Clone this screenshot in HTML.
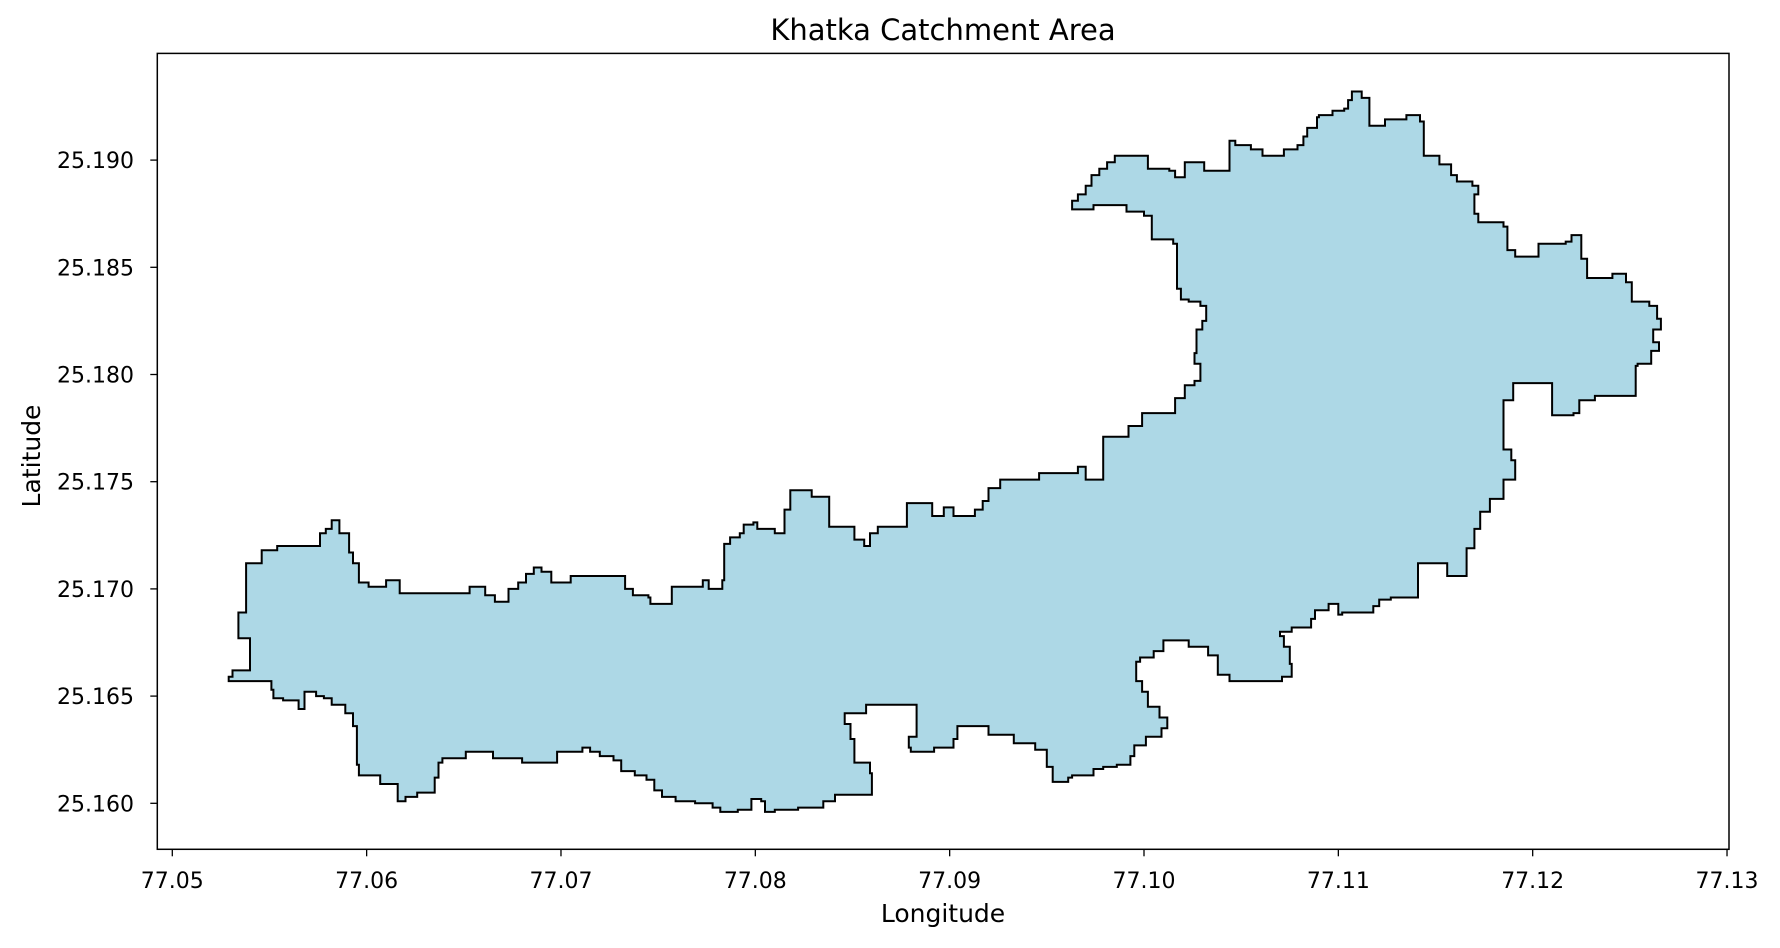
<!DOCTYPE html>
<html><head><meta charset="utf-8">
<style>
html,body{margin:0;padding:0;background:#fff;}
svg text{font-family:"DejaVu Sans","Liberation Sans",sans-serif;fill:#000;}
</style></head>
<body>
<svg id="chart" width="1780" height="943" viewBox="0 0 1780 943" xmlns="http://www.w3.org/2000/svg">
<rect x="0" y="0" width="1780" height="943" fill="#fff"/>
<text x="943" y="40" font-size="29" text-anchor="middle">Khatka Catchment Area</text>
<g id="plot"></g>
<rect x="157.3" y="53.4" width="1571.7" height="795.9" fill="none" stroke="#000" stroke-width="1.5"/>
<g id="xticks"></g><g id="yticks"></g>
<text x="943" y="922" font-size="25" text-anchor="middle">Longitude</text>
<text x="0" y="0" font-size="25" text-anchor="middle" transform="translate(40,456) rotate(-90)">Latitude</text>
</svg>
<script>
const xTickValues=[77.05,77.06,77.07,77.08,77.09,77.10,77.11,77.12,77.13];
const xTickLabels=["77.05","77.06","77.07","77.08","77.09","77.10","77.11","77.12","77.13"];
const yTickValues=[25.160,25.165,25.170,25.175,25.180,25.185,25.190];
const yTickLabels=["25.160","25.165","25.170","25.175","25.180","25.185","25.190"];
const boundaryLon=[77.0529,77.0529,77.0531,77.0531,77.0540,77.0540,77.0534,77.0534,77.0538,77.0538,77.0546,77.0554,77.0574,77.0576,77.0579,77.0582,77.0585,77.0586,77.0591,77.0593,77.0596,77.0601,77.0601,77.0610,77.0610,77.0614,77.0617,77.0651,77.0653,77.0659,77.0661,77.0665,77.0666,77.0672,77.0673,77.0678,77.0682,77.0686,77.0690,77.0695,77.0704,77.0705,77.0732,77.0733,77.0737,77.0745,77.0746,77.0754,77.0757,77.0772,77.0773,77.0776,77.0779,77.0783,77.0784,77.0787,77.0792,77.0794,77.0799,77.0801,77.0807,77.0810,77.0815,77.0818,77.0829,77.0829,77.0837,77.0838,77.0849,77.0851,77.0856,77.0859,77.0863,77.0878,77.0878,77.0887,77.0891,77.0895,77.0897,77.0902,77.0913,77.0917,77.0920,77.0926,77.0944,77.0946,77.0965,77.0966,77.0970,77.0978,77.0979,77.0990,77.0992,77.0998,77.0999,77.1015,77.1016,77.1021,77.1026,77.1029,77.1026,77.1027,77.1030,77.1032,77.1029,77.1023,77.1019,77.1017,77.1015,77.1005,77.1004,77.1000,77.0991,77.0991,77.0981,77.0974,77.0963,77.0963,77.0966,77.0970,77.0973,77.0977,77.0981,77.0985,77.1001,77.1002,77.1013,77.1016,77.1021,77.1031,77.1031,77.1040,77.1044,77.1047,77.1055,77.1061,77.1072,77.1079,77.1082,77.1084,77.1089,77.1090,77.1097,77.1103,77.1105,77.1107,77.1112,77.1116,77.1123,77.1124,77.1134,77.1135,77.1142,77.1144,77.1152,77.1158,77.1161,77.1169,77.1172,77.1170,77.1172,77.1185,77.1187,77.1191,77.1201,77.1203,77.1217,77.1220,77.1225,77.1228,77.1236,77.1241,77.1248,77.1251,77.1260,77.1264,77.1266,77.1262,77.1265,77.1261,77.1254,77.1253,77.1235,77.1232,77.1224,77.1221,77.1215,77.1210,77.1210,77.1198,77.1190,77.1185,77.1185,77.1189,77.1191,77.1186,77.1185,77.1178,77.1173,77.1170,77.1166,77.1157,77.1156,77.1141,77.1141,77.1127,77.1121,77.1118,77.1102,77.1100,77.1095,77.1088,77.1086,77.1076,77.1070,77.1072,77.1075,77.1076,77.1071,77.1060,77.1044,77.1038,77.1033,77.1023,77.1015,77.1010,77.1005,77.0998,77.0996,77.0999,77.1002,77.1008,77.1012,77.1009,77.1001,77.0995,77.0993,77.0986,77.0979,77.0974,77.0963,77.0961,77.0954,77.0953,77.0950,77.0944,77.0933,77.0922,77.0920,77.0908,77.0904,77.0902,77.0892,77.0880,77.0879,77.0883,77.0883,77.0857,77.0857,77.0846,77.0846,77.0849,77.0851,77.0859,77.0860,77.0850,77.0841,77.0835,77.0822,77.0810,77.0805,77.0803,77.0798,77.0791,77.0785,77.0782,77.0778,77.0769,77.0759,77.0752,77.0748,77.0744,77.0738,77.0731,77.0727,77.0720,77.0715,77.0711,77.0698,77.0680,77.0665,77.0651,77.0641,77.0639,77.0637,77.0635,77.0626,77.0620,77.0616,77.0607,77.0596,77.0595,77.0593,77.0589,77.0582,77.0578,77.0574,77.0568,77.0565,77.0557,77.0552,77.0551];
const boundaryLat=[25.1657,25.1659,25.1659,25.1662,25.1662,25.1677,25.1677,25.1689,25.1689,25.1712,25.1718,25.1720,25.1720,25.1726,25.1728,25.1732,25.1732,25.1726,25.1717,25.1712,25.1703,25.1703,25.1701,25.1701,25.1704,25.1704,25.1698,25.1698,25.1701,25.1701,25.1697,25.1697,25.1694,25.1694,25.1700,25.1703,25.1707,25.1710,25.1708,25.1703,25.1703,25.1706,25.1706,25.1700,25.1697,25.1696,25.1693,25.1693,25.1701,25.1701,25.1704,25.1700,25.1700,25.1704,25.1721,25.1724,25.1726,25.1730,25.1731,25.1728,25.1728,25.1726,25.1737,25.1746,25.1746,25.1743,25.1743,25.1729,25.1729,25.1723,25.1720,25.1726,25.1729,25.1729,25.1740,25.1740,25.1734,25.1734,25.1738,25.1734,25.1737,25.1741,25.1747,25.1751,25.1751,25.1754,25.1754,25.1757,25.1751,25.1751,25.1771,25.1771,25.1776,25.1776,25.1782,25.1782,25.1789,25.1795,25.1797,25.1805,25.1810,25.1821,25.1825,25.1832,25.1834,25.1835,25.1840,25.1861,25.1863,25.1863,25.1874,25.1876,25.1877,25.1879,25.1879,25.1877,25.1877,25.1881,25.1884,25.1888,25.1893,25.1896,25.1899,25.1902,25.1902,25.1896,25.1895,25.1892,25.1899,25.1899,25.1895,25.1895,25.1909,25.1907,25.1905,25.1902,25.1905,25.1907,25.1911,25.1915,25.1920,25.1921,25.1923,25.1924,25.1928,25.1932,25.1929,25.1916,25.1916,25.1919,25.1919,25.1921,25.1918,25.1902,25.1898,25.1893,25.1890,25.1888,25.1884,25.1875,25.1871,25.1869,25.1858,25.1855,25.1855,25.1861,25.1862,25.1865,25.1854,25.1845,25.1845,25.1847,25.1843,25.1834,25.1832,25.1826,25.1821,25.1815,25.1811,25.1805,25.1804,25.1790,25.1790,25.1788,25.1782,25.1781,25.1781,25.1787,25.1796,25.1796,25.1788,25.1780,25.1765,25.1760,25.1751,25.1751,25.1742,25.1736,25.1728,25.1719,25.1706,25.1706,25.1712,25.1712,25.1696,25.1695,25.1692,25.1689,25.1688,25.1693,25.1690,25.1686,25.1682,25.1680,25.1678,25.1673,25.1665,25.1659,25.1657,25.1657,25.1660,25.1669,25.1673,25.1676,25.1676,25.1671,25.1668,25.1666,25.1657,25.1652,25.1645,25.1640,25.1635,25.1631,25.1627,25.1622,25.1618,25.1617,25.1616,25.1613,25.1612,25.1610,25.1610,25.1617,25.1625,25.1628,25.1632,25.1632,25.1636,25.1636,25.1630,25.1626,25.1624,25.1626,25.1631,25.1634,25.1646,25.1646,25.1642,25.1642,25.1637,25.1630,25.1619,25.1614,25.1604,25.1604,25.1601,25.1598,25.1597,25.1596,25.1601,25.1602,25.1597,25.1596,25.1596,25.1598,25.1600,25.1601,25.1603,25.1606,25.1611,25.1613,25.1615,25.1620,25.1622,25.1624,25.1626,25.1624,25.1619,25.1621,25.1624,25.1621,25.1621,25.1619,25.1612,25.1605,25.1603,25.1601,25.1609,25.1613,25.1618,25.1636,25.1642,25.1646,25.1649,25.1650,25.1652,25.1644,25.1648,25.1649,25.1653,25.1657];

const NS="http://www.w3.org/2000/svg";
function xScale(v){return 172.3+(v-77.05)/0.01*194.34;}
function yScale(v){return 803.3-(v-25.160)/0.001*21.44;}

const plot=document.getElementById('plot');
let d="";
for(let i=0;i<boundaryLon.length;i++){
  const x=xScale(boundaryLon[i]).toFixed(1), y=yScale(boundaryLat[i]).toFixed(1);
  if(i===0){d+="M"+x+","+y;}
  else{const py=yScale(boundaryLat[i-1]).toFixed(1);d+="L"+x+","+py+"L"+x+","+y;}
}
d+="L"+xScale(boundaryLon[0]).toFixed(1)+","+yScale(boundaryLat[boundaryLat.length-1]).toFixed(1)+"Z";
const poly=document.createElementNS(NS,'path');
poly.setAttribute('d',d);
poly.setAttribute('fill','#add8e6');
poly.setAttribute('stroke','#000');
poly.setAttribute('stroke-width','2');
poly.setAttribute('stroke-linejoin','miter');


plot.appendChild(poly);

const xg=document.getElementById('xticks');
xTickValues.forEach((v,i)=>{
  const x=xScale(v);
  const l=document.createElementNS(NS,'line');
  l.setAttribute('x1',x);l.setAttribute('x2',x);l.setAttribute('y1',849.3);l.setAttribute('y2',856.3);
  l.setAttribute('stroke','#000');l.setAttribute('stroke-width','1.3');
  
  
  xg.appendChild(l);
  const t=document.createElementNS(NS,'text');
  t.setAttribute('x',x);t.setAttribute('y',888);t.setAttribute('font-size','22');t.setAttribute('text-anchor','middle');
  t.textContent=xTickLabels[i];
  
  
  xg.appendChild(t);
});
const yg=document.getElementById('yticks');
yTickValues.forEach((v,i)=>{
  const y=yScale(v);
  const l=document.createElementNS(NS,'line');
  l.setAttribute('x1',150.3);l.setAttribute('x2',157.3);l.setAttribute('y1',y);l.setAttribute('y2',y);
  l.setAttribute('stroke','#000');l.setAttribute('stroke-width','1.3');
  
  
  yg.appendChild(l);
  const t=document.createElementNS(NS,'text');
  t.setAttribute('x',134);t.setAttribute('y',y+8);t.setAttribute('font-size','22');t.setAttribute('text-anchor','end');
  t.textContent=yTickLabels[i];
  
  
  yg.appendChild(t);
});
</script>
</body></html>
